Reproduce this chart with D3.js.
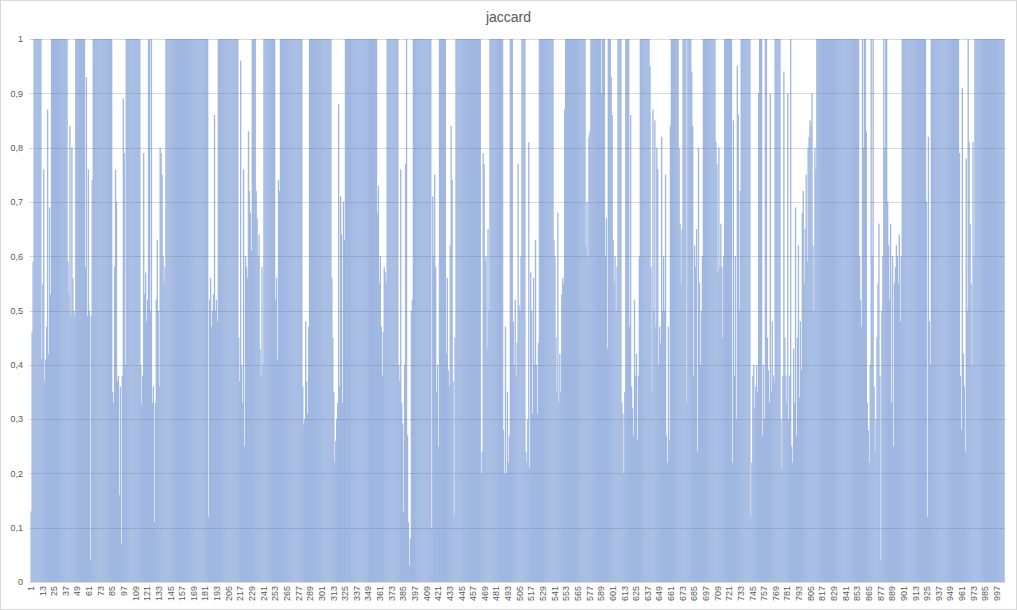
<!DOCTYPE html>
<html>
<head>
<meta charset="utf-8">
<script src="https://cdn.jsdelivr.net/npm/d3@7/dist/d3.min.js"></script>
<style>
  html, body { margin: 0; padding: 0; background: #fff; }
  svg { display: block; }
</style>
</head>
<body>
<div id="chart"></div>
<script>
var title = 'jaccard';

var yTicks = [0, 0.1, 0.2, 0.3, 0.4, 0.5, 0.6, 0.7, 0.8, 0.9, 1];
var yTickLabels = ['0', '0,1', '0,2', '0,3', '0,4', '0,5', '0,6', '0,7', '0,8', '0,9', '1'];

// one value per category (1 = full bar)
var jaccard = [
  .13,.46,.59,                                   // 1-3
  1,1,1,1,1, 1,1,1,                              // 4-11
  .41,.55,.76,.37,.41,.47,.87,.42,.69,.53,       // 12-21
  1,1,1,1,1, 1,1,1,1,1, 1,1,1,1,1, 1,1,          // 22-38
  .59,.53,.84,.49,.8,.56,.5,.49,                 // 39-46
  1,1,1,1,1, 1,1,1,1,1,                          // 47-56
  .58,.93,.49,.76,.5,.04,.49,.74,                // 57-64
  1,1,1,1,1, 1,1,1,1,1, 1,1,1,1,1, 1,1,1,1,1,    // 65-84
  .35,.33,.58,.76,.7,.37,.38,.16,.36,.07,.38,.89,.79,.4,   // 85-98
  1,1,1,1,1, 1,1,1,1,1, 1,1,1,1,1,               // 99-113
  .4,.33,.38,.79,.53,.57,.48,.52,                // 114-121
  1,1,                                           // 122-123
  .5,                                            // 124
  1,                                             // 125
  .33,.36,.11,.33,.52,.63,.5,.36,.8,.79,.75,.6,.55,.58,    // 126-139
  1,1,1,1,1, 1,1,1,1,1, 1,1,1,1,1, 1,1,1,1,1,
  1,1,1,1,1, 1,1,1,1,1, 1,1,1,1,1, 1,1,1,1,1, 1,1,1,1,     // 140-183
  .12,.52,.56,.47,.5,.53,.86,.5,.52,.48,         // 184-193
  1,1,1,1,1, 1,1,1,1,1, 1,1,1,1,1, 1,1,1,1,1, 1, // 194-214
  .45,.37,.96,.4,.33,.76,.25,.6,.58,.56,.83,.72,.68,.61,   // 215-228
  1,1,1,1,                                       // 229-232
  .72,.67,.6,.64,.43,.38,.58,.4,                 // 233-240
  1,1,1,1,1, 1,1,1,1,1, 1,1,                     // 241-252
  .52,.56,.41,.74,.72,                           // 253-257
  1,1,1,1,1, 1,1,1,1,1, 1,1,1,1,1, 1,1,1,1,1, 1,1,1,       // 258-280
  .36,.29,.3,.48,.37,.31,.47,                    // 281-287
  1,1,1,1,1, 1,1,1,1,1, 1,1,1,1,1, 1,1,1,1,1, 1,1,1,       // 288-310
  .56,.45,.35,.22,.26,.3,.33,.88,.36,.71,.64,.33,.7,.63,   // 311-324
  1,1,1,1,1, 1,1,1,1,1, 1,1,1,1,1, 1,1,1,1,1,
  1,1,1,1,1, 1,1,1,1,1, 1,1,1,                   // 325-357
  .68,.73,.55,.6,.47,.38,.46,.58,.57,.55,        // 358-367
  1,1,1,1,1, 1,1,1,1,1, 1,1,                     // 368-379
  .4,.37,.76,.33,.29,.13,.4,.77,1,.27,.11,.03,.08,.5,.52,  // 380-394
  1,1,1,1,1, 1,1,1,1,1, 1,1,1,1,1, 1,1,1,1,      // 395-413
  .1,.71,.6,.75,.58,.35,.4,.25,                  // 414-421
  1,1,1,1,1, 1,1,                                // 422-428
  .42,.56,.39,.36,.62,.84,.74,.37,.12,.45,       // 429-438
  1,1,1,1,1, 1,1,1,1,1, 1,1,1,1,1, 1,1,1,1,1, 1,1,1,1,1, 1, // 439-464
  .2,.24,.79,.77,.59,.6,.43,.65,.5,              // 465-473
  1,1,1,1,1, 1,1,1,1,1, 1,1,1,1,                 // 474-487
  .28,.2,.47,.2,.35,.22,.27,                     // 488-494
  1,1,1,                                         // 495-497
  .48,.4,.52,.38,.44,.77,.51,.5,.6,              // 498-506
  1,1,1,1,                                       // 507-510
  .24,.22,.3,.81,.21,.57,.5,.31,.56,.4,.63,.4,.31,.44,     // 511-524
  1,1,1,1,1, 1,1,1,1,1, 1,1,1,1,1,               // 525-539
  .63,.6,.45,.35,.68,.33,.42,.35,.53,.56,.55,.87,          // 540-551
  1,1,1,1,1, 1,1,1,1,1, 1,1,1,1,1, 1,1,1,1,1, 1, // 552-572
  .62,.7,.6,.82,.83,                             // 573-577
  1,1,1,1,1, 1,1,1,1,1, 1,                       // 578-588
  .9,                                            // 589
  1,1,1,                                         // 590-592
  .6,.67,.43,                                    // 593-595
  1,1,1,                                         // 596-598
  .93,.86,.63,.55,.6,.5,.58,                     // 599-605
  1,1,1,1,                                       // 606-609
  .33,.31,.2,.35,                                // 610-613
  1,1,1,1,                                       // 614-617
  .47,.86,.36,.32,.27,.52,.38,.42,.26,.38,.6,    // 618-628
  1,1,1,1,1, 1,1,1,1,1,                          // 629-638
  .95,.58,.35,.87,.5,.85,.47,.8,.76,.4,.47,.44,.82,.5,.6,.5,.75,.27,.22,.47,.26,.84, // 639-660
  1,1,1,1,1, 1,1,1,                              // 661-668
  .8,.66,.55,.65,                                // 669-672
  1,1,1,1,                                       // 673-676
  .33,                                           // 677
  1,1,1,1,                                       // 678-681
  .94,.84,.38,.62,.58,.65,.24,.8,.55,.4,.5,.6,   // 682-693
  1,1,1,1,1, 1,1,1,1,1, 1,1,1,                   // 694-706
  .81,.77,.57,.8,.58,.66,.58,.45,.6,             // 707-715
  1,1,1,1,1, 1,1,1,                              // 716-723
  .22,.85,.38,.6,.3,.95,.86,.5,.72,              // 724-732
  1,1,1,1,1, 1,1,1,1,1,                          // 733-742
  .12,.22,.38,.4,.32,.36,.4,.35,                 // 743-750
  .9,                                            // 751
  1,1,1,                                         // 752-754
  .27,.4,.3,                                     // 755-757
  1,1,                                           // 758-759
  .45,.39,.33,.9,.35,.48,.38,.37,                // 760-767
  1,1,1,1,1, 1,                                  // 768-773
  .3,.21,.38,.94,.45,.38,.33,.9,.3,.38,1,.25,.22,.43,.33,.69,.27,.45,.62,.34,
  .48,.39,.68,.72,.55,.65,.75,.59,.8,.82,.85,.84,.9,.62,.5,.8,.76,         // 774-810
  1,1,1,1,1, 1,1,1,1,1, 1,1,1,1,1, 1,1,1,1,1,
  1,1,1,1,1, 1,1,1,1,1, 1,1,1,1,1, 1,1,1,1,1, 1,1,1,1,     // 811-854
  .6,.52,.47,                                    // 855-857
  1,.8,1,1,                                      // 858-861
  .83,.33,.28,.22,.4,                            // 862-866
  1,.6,1,                                        // 867-869
  .36,.24,.3,.45,.55,.66,.38,.04,.5,.6,          // 870-879
  1,.8,1,1,                                      // 880-883
  .7,.62,.52,.66,.33,.6,.25,.55,.58,.62,.6,.55,.64,.48,.6, // 884-898
  1,1,1,1,1, 1,1,1,1,1, 1,1,1,1,1, 1,1,1,1,1, 1,1,1,1,1,   // 899-923
  .7,.12,.82,.48,.4,                             // 924-928
  1,1,1,1,1, 1,1,1,1,1, 1,1,1,1,1, 1,1,1,1,1, 1,1,1,1,1, 1,1,1,1, // 929-957
  .79,.38,.28,.91,.42,.36,.24,.78,.5,            // 958-966
  1,                                             // 967
  .81,.66,.55,.4,.81,.6,                         // 968-973
  1,1,1,1,1, 1,1,1,1,1, 1,1,1,1,1, 1,1,1,1,1, 1,1,1,1,1, 1,1,1,1,1, 1  // 974-1004
];

var categories = d3.range(1, jaccard.length + 1);
var xTickValues = d3.range(1, jaccard.length + 1, 12);

var width = 1017, height = 610;
var margin = { left: 30, top: 39, bottom: 28 };
var step = 0.97;
var plotLeft = margin.left + 0.5;
var plotRight = plotLeft + categories.length * step;
var plotBottom = height - margin.bottom;

var svg = d3.select('#chart').append('svg')
  .attr('width', width).attr('height', height)
  .attr('viewBox', '0 0 ' + width + ' ' + height);

svg.append('rect')
  .attr('x', 0.5).attr('y', 0.5)
  .attr('width', width - 1).attr('height', height - 1)
  .attr('fill', '#fff').attr('stroke', '#d9d9d9');

var x = d3.scaleBand().domain(categories).range([plotLeft, plotRight]).padding(0);
var y = d3.scaleLinear().domain([0, 1]).range([plotBottom, margin.top]);

// gridlines
svg.append('g').selectAll('line').data(yTicks).enter().append('line')
  .attr('x1', plotLeft - 1).attr('x2', plotRight + 1)
  .attr('y1', function(d) { return Math.round(y(d)) + 0.5; })
  .attr('y2', function(d) { return Math.round(y(d)) + 0.5; })
  .attr('stroke', '#d9d9d9').attr('stroke-width', 1);

// bars, semi transparent as a whole so gridlines show through
var bars = svg.append('g').attr('opacity', 0.5);
bars.selectAll('rect').data(jaccard).enter().append('rect')
  .attr('x', function(d, i) { return x(categories[i]); })
  .attr('y', function(d) { return y(d); })
  .attr('width', x.bandwidth() + 0.35)
  .attr('height', function(d) { return y(0) - y(d); })
  .attr('fill', '#4472C4');

// y axis
var yAxis = d3.axisLeft(y).tickValues(yTicks).tickSize(0).tickPadding(0)
  .tickFormat(function(d, i) { return yTickLabels[i]; });
var yg = svg.append('g').attr('transform', 'translate(23,0)').call(yAxis);
yg.select('.domain').remove();
yg.selectAll('text')
  .attr('font-family', 'Liberation Sans, Arial, sans-serif')
  .attr('font-size', 9).attr('fill', '#595959');

// x axis
var xAxis = d3.axisBottom(x).tickValues(xTickValues).tickSize(0);
var xg = svg.append('g').attr('transform', 'translate(0,' + plotBottom + ')').call(xAxis);
xg.select('.domain').remove();
xg.selectAll('text')
  .attr('font-family', 'Liberation Sans, Arial, sans-serif')
  .attr('font-size', 9).attr('fill', '#595959')
  .attr('text-anchor', 'end')
  .attr('dy', '0.32em')
  .attr('transform', 'translate(0,4) rotate(-90)')
  .attr('x', 0).attr('y', 0);

// title
svg.append('text')
  .attr('x', width / 2).attr('y', 22)
  .attr('text-anchor', 'middle')
  .attr('font-family', 'Liberation Sans, Arial, sans-serif')
  .attr('font-size', 14).attr('fill', '#595959')
  .text(title);
</script>
</body>
</html>
